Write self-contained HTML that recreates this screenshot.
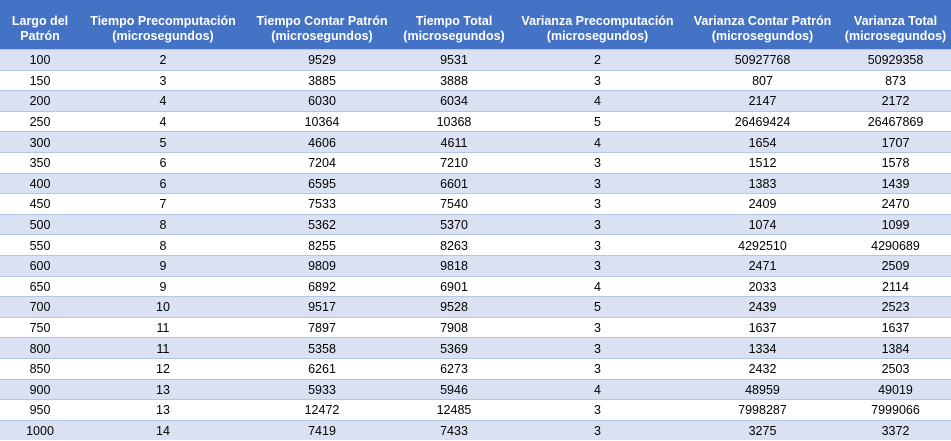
<!DOCTYPE html>
<html><head><meta charset="utf-8"><style>
html,body{margin:0;padding:0;background:#fff;width:951px;height:441px;overflow:hidden}
table{border-collapse:collapse;table-layout:fixed;width:951px;font-family:"Liberation Sans",sans-serif;font-size:12.5px;color:#000}
th{background:#4472C4;color:#fff;font-weight:bold;height:41px;padding:8px 0 0 0;line-height:15px;text-align:center;vertical-align:middle;font-size:12.5px}
td{height:18.6px;padding:1px 0 0 0;text-align:center;border-top:1px solid #B4C6E7;line-height:18px}
tr.odd td{background:#D9E1F2}
</style></head><body>
<table>
<colgroup><col style="width:80px"><col style="width:166px"><col style="width:152px"><col style="width:112px"><col style="width:175px"><col style="width:155px"><col style="width:111px"></colgroup>
<thead><tr>
<th>Largo del<br>Patrón</th>
<th>Tiempo Precomputación<br>(microsegundos)</th>
<th>Tiempo Contar Patrón<br>(microsegundos)</th>
<th>Tiempo Total<br>(microsegundos)</th>
<th>Varianza Precomputación<br>(microsegundos)</th>
<th>Varianza Contar Patrón<br>(microsegundos)</th>
<th>Varianza Total<br>(microsegundos)</th>
</tr></thead>
<tbody id="tb"></tbody>
</table>
<script>
const largo=[100,150,200,250,300,350,400,450,500,550,600,650,700,750,800,850,900,950,1000];
const tPre=[2,3,4,4,5,6,6,7,8,8,9,9,10,11,11,12,13,13,14];
const tCont=[9529,3885,6030,10364,4606,7204,6595,7533,5362,8255,9809,6892,9517,7897,5358,6261,5933,12472,7419];
const tTot=[9531,3888,6034,10368,4611,7210,6601,7540,5370,8263,9818,6901,9528,7908,5369,6273,5946,12485,7433];
const vPre=[2,3,4,5,4,3,3,3,3,3,3,4,5,3,3,3,4,3,3];
const vCont=[50927768,807,2147,26469424,1654,1512,1383,2409,1074,4292510,2471,2033,2439,1637,1334,2432,48959,7998287,3275];
const vTot=[50929358,873,2172,26467869,1707,1578,1439,2470,1099,4290689,2509,2114,2523,1637,1384,2503,49019,7999066,3372];
const tb=document.getElementById('tb');
for(let i=0;i<largo.length;i++){
  const tr=document.createElement('tr');
  
  
  if(i%2===0)tr.className='odd';
  [largo[i],tPre[i],tCont[i],tTot[i],vPre[i],vCont[i],vTot[i]].forEach((v,j)=>{
    const td=document.createElement('td');
    
    
    td.textContent=v;
    tr.appendChild(td);
  });
  tb.appendChild(tr);
}
</script>
</body></html>
